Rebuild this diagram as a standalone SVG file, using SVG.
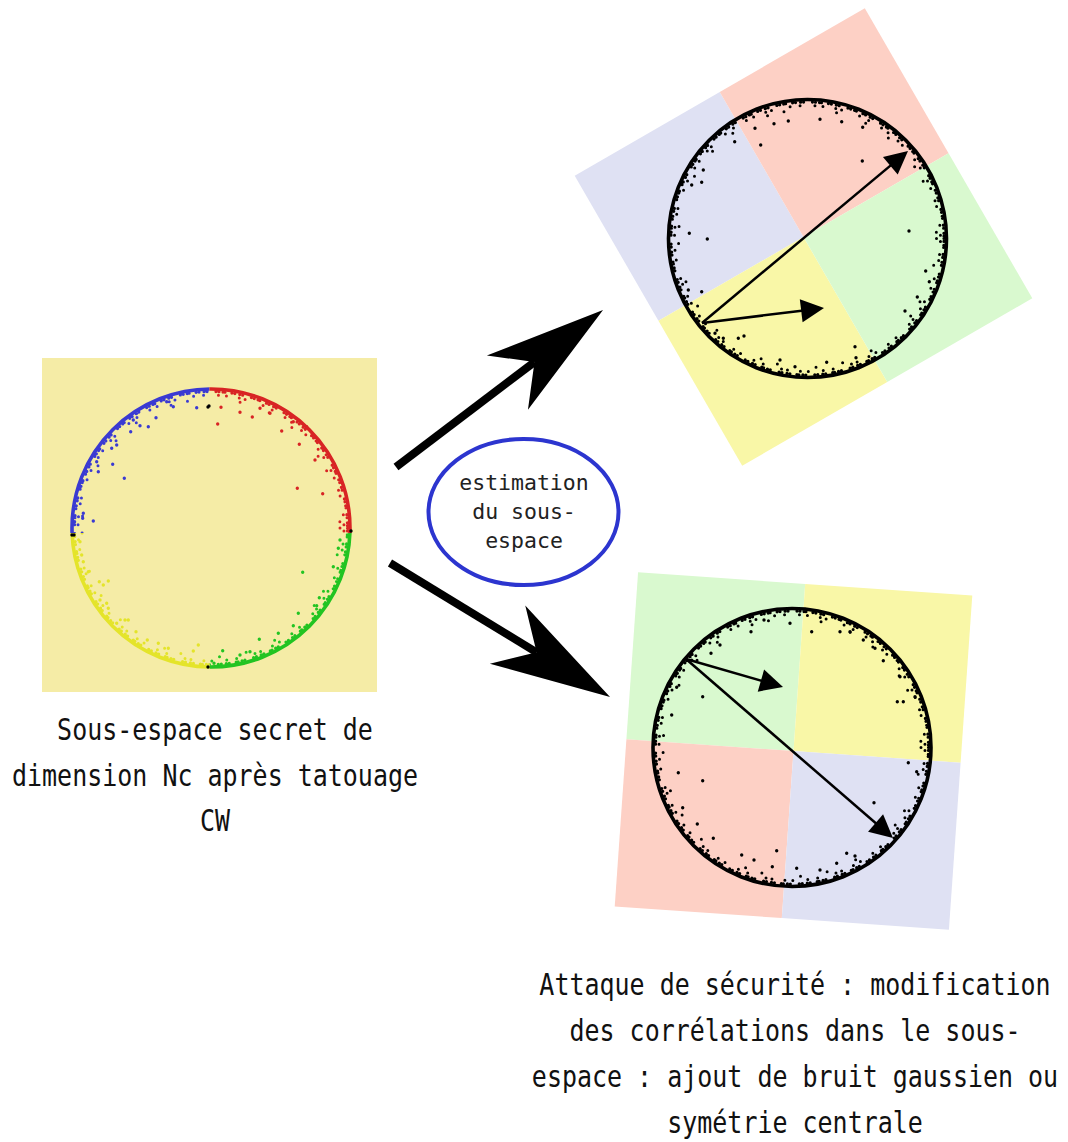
<svg xmlns="http://www.w3.org/2000/svg" xmlns:xlink="http://www.w3.org/1999/xlink" width="1068" height="1142" viewBox="0 0 1068 1142">
<style>
.big{font-family:"DejaVu Sans Mono","Liberation Mono",monospace;font-size:30px;fill:#111;text-anchor:middle;}
.small{font-family:"DejaVu Sans Mono","Liberation Mono",monospace;font-size:21.5px;fill:#222;text-anchor:middle;}
.dots{fill:none;stroke-linecap:round;stroke-width:3.4;}
.thin{fill:none;stroke:#000;stroke-width:2.5;}
.thick{fill:none;stroke:#000;stroke-width:8;}
</style>
<defs>
<g id="rings" fill="none" stroke="currentColor" stroke-linecap="round">
<circle r="139" stroke-width="3.6"/>
<circle r="136.5" stroke-width="3.2" stroke-dasharray="0 3 0 4 0 2 0 7 0 3 0 5 0 3 0 9"/>
<circle r="133" stroke-width="3" stroke-dasharray="0 8 0 13 0 6 0 19 0 10 0 15" stroke-dashoffset="5"/>
<circle r="129" stroke-width="3" stroke-dasharray="0 27 0 39 0 17 0 53 0 31"/>
</g>
<clipPath id="qTL"><rect x="0" y="0" width="209.5" height="533"/></clipPath>
<clipPath id="qTR"><rect x="209.5" y="0" width="300" height="533"/></clipPath>
<clipPath id="qBR"><rect x="209.5" y="533" width="300" height="300"/></clipPath>
<clipPath id="qBL"><rect x="0" y="533" width="209.5" height="300"/></clipPath>
<marker id="bighead" markerUnits="userSpaceOnUse" orient="auto" refX="0" refY="0" markerWidth="140" markerHeight="80" viewBox="-40 -40 140 80" overflow="visible">
<path d="M86,0 L-34,-34 L0,0 L-34,34 Z" fill="#000"/>
</marker>
<marker id="smallhead" markerUnits="userSpaceOnUse" orient="auto" refX="0" refY="0" markerWidth="30" markerHeight="30" viewBox="-15 -15 30 30" overflow="visible">
<path d="M10,0 L-13,-11.5 L-13,11.5 Z" fill="#000"/>
</marker>
</defs>

<g id="node-source">
<rect x="42" y="358" width="335" height="334" fill="#f5eca6"/>
<g clip-path="url(#qTL)" color="#3a3ad2"><use xlink:href="#rings" x="211" y="528"/></g>
<g clip-path="url(#qTR)" color="#d82424"><use xlink:href="#rings" x="211" y="528"/></g>
<g clip-path="url(#qBR)" color="#22c422"><use xlink:href="#rings" x="211" y="528"/></g>
<g clip-path="url(#qBL)" color="#e4e42a"><use xlink:href="#rings" x="211" y="528"/></g>
<path class="dots" stroke="#3a3ad2" d="M196.7 407.7h0M173.3 406.7h0M156 417.7h0M148.3 426.7h0M130.7 431.7h0M140 425.7h0M111.7 448.3h0M112.7 464.3h0M124.3 478.3h0M93.3 521h0M83.3 513.3h0M82.7 518.3h0M98.3 471.7h0M96.7 461.7h0M116.7 445h0M133.3 420h0M166.7 401.7h0"/>
<path class="dots" stroke="#d82424" d="M221 407.3h0M217.7 424h0M240 412.3h0M252.3 417h0M281.7 431h0M270 413.3h0M260 408.3h0M299.3 444.3h0M315 460h0M297.3 488.3h0M322.7 493.7h0M293.3 421.7h0M306.7 426.7h0"/>
<path class="dots" stroke="#22c422" d="M302.7 572.3h0M319.3 597.7h0M316.7 605.7h0M298.3 613.3h0M293.3 625.7h0M278.3 633.3h0M259.3 639.3h0M250 651.7h0M240 655h0M222.7 650.7h0M214 663.3h0M333.3 566.7h0M338.3 548.3h0M340 540h0"/>
<path class="dots" stroke="#e4e42a" d="M99.3 581.7h0M108.3 581h0M103.3 585h0M88.3 571.7h0M100 600h0M106.7 603.3h0M108.3 608.3h0M125 620h0M128.3 620h0M116.7 623.3h0M136 631.7h0M147.3 640h0M158.3 643.3h0M168.3 648.3h0M198.3 645h0M193.3 651h0M80 541.7h0M81.7 555h0M83.3 561.7h0"/>
<path class="dots" stroke="#000" stroke-width="4" d="M208 407h0M209 406h0M72 535h0M74 535h0M351 531h0M208 667h0"/>
<text class="big" transform="translate(215,740) scale(0.833,1)">Sous-espace secret de</text>
<text class="big" transform="translate(215,786) scale(0.833,1)">dimension Nc après tatouage</text>
<text class="big" transform="translate(215,831) scale(0.833,1)">CW</text>
</g>

<g id="node-estimation">
<ellipse cx="523.5" cy="512" rx="95" ry="73" fill="#fff" stroke="#2c35cf" stroke-width="4"/>
<text class="small" x="524" y="490">estimation</text>
<text class="small" x="524" y="519">du sous-</text>
<text class="small" x="524" y="548">espace</text>
</g>

<g id="node-attack-top">
<g transform="translate(803.5,237) rotate(-30)">
<rect x="-167.5" y="-167.5" width="167.5" height="167.5" fill="#dfe1f3"/>
<rect x="0" y="-167.5" width="167.5" height="167.5" fill="#fdd0c5"/>
<rect x="-167.5" y="0" width="167.5" height="167.5" fill="#f9f7a7"/>
<rect x="0" y="0" width="167.5" height="167.5" fill="#d9f9cf"/>
</g>
<g color="#000"><use xlink:href="#rings" x="807.5" y="238.5"/></g>
<path class="dots" stroke="#000" d="M755 128.3h0M774 123.7h0M788.3 121h0M820 119.3h0M841.7 121.7h0M862.7 127.3h0M760.7 145h0M734.7 141.7h0M862.3 161h0M707.3 239h0M689.3 233.3h0M701.7 182.3h0M703.3 170h0M691.7 185h0M701.7 291.7h0M688.3 290h0M909 231h0M925.7 271h0M929.3 281.7h0M917.3 297h0M905 311h0M855 346.7h0M856 357.7h0M826.7 362.3h0M780 360h0M795 366.7h0M744 336h0M738.3 338.3h0M723.3 338.3h0M715 333.3h0"/>
<path class="thin" d="M702 323 L900.3 157.4" marker-end="url(#smallhead)"/>
<path class="thin" d="M702 323 L814.1 309.2" marker-end="url(#smallhead)"/>
</g>

<g id="node-attack-bottom">
<g transform="translate(793.5,751) rotate(4)">
<rect x="-167.5" y="-167.5" width="167.5" height="167.5" fill="#d9f9cf"/>
<rect x="0" y="-167.5" width="167.5" height="167.5" fill="#f9f7a7"/>
<rect x="-167.5" y="0" width="167.5" height="167.5" fill="#fdd0c5"/>
<rect x="0" y="0" width="167.5" height="167.5" fill="#dfe1f3"/>
</g>
<g color="#000"><use xlink:href="#rings" x="792" y="747.5"/></g>
<path class="dots" stroke="#000" d="M702.7 696.7h0M678.3 772.7h0M702.7 780.7h0M682.7 807.7h0M697.3 824h0M713.3 838.3h0M741.7 855h0M754 860h0M776.7 850.7h0M772.3 866.7h0M796.7 868.3h0M751 631.7h0M764 620h0M790 623.3h0M811.7 631.7h0M840 631.7h0M850 631.7h0M863.3 640h0M875 648.3h0M883.3 660.7h0M900 676.7h0M903.3 701.7h0M897.3 701.7h0M915 696.7h0M908.3 762.7h0M916.7 771.7h0M874 802.7h0M846.7 853.3h0M855 856h0M836.7 863.3h0M820 870h0M676.7 687.3h0M671.7 715h0M711 653.3h0M720 645h0"/>
<path class="thin" d="M686 659 L773.4 684.2" marker-end="url(#smallhead)"/>
<path class="thin" d="M686 659 L885.4 831.5" marker-end="url(#smallhead)"/>
<text class="big" transform="translate(795,995) scale(0.833,1)">Attaque de sécurité : modification</text>
<text class="big" transform="translate(795,1041) scale(0.833,1)">des corrélations dans le sous-</text>
<text class="big" transform="translate(795,1087) scale(0.833,1)">espace : ajout de bruit gaussien ou</text>
<text class="big" transform="translate(795,1133) scale(0.833,1)">symétrie centrale</text>
</g>

<g id="connectors">
<path class="thick" d="M396 467 L534.5 362" marker-end="url(#bighead)"/>
<path class="thick" d="M390 563 L536.6 652.3" marker-end="url(#bighead)"/>
</g>
</svg>
